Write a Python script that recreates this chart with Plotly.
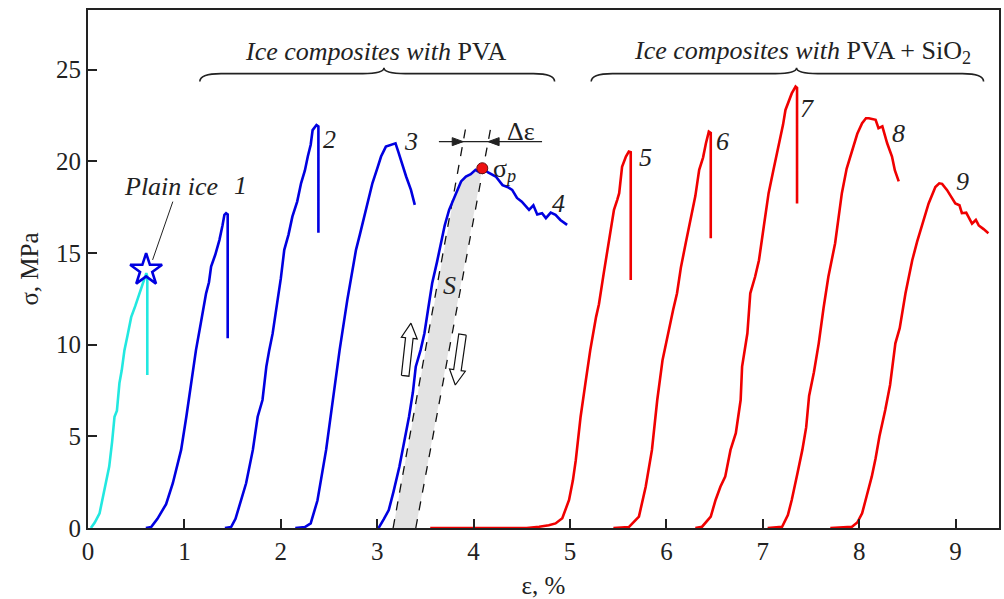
import plotly.graph_objects as go

# ---------------- data ----------------
ice_x = [0.03, 0.07, 0.12, 0.17, 0.22, 0.25, 0.275, 0.30, 0.326, 0.35, 0.378, 0.41, 0.448, 0.49, 0.54, 0.585, 0.605, 0.615, 0.615]
ice_y = [0, 0.3, 0.8, 2.0, 3.35, 4.7, 6.07, 6.4, 7.9, 8.6, 9.7, 10.5, 11.5, 12.1, 12.9, 13.5, 13.9, 13.7, 8.35]
ice_peak_x = [0.603]
ice_peak_y = [14.07]

c1_x = [0.60, 0.655, 0.72, 0.81, 0.88, 0.966, 1.02, 1.07, 1.12, 1.17, 1.20, 1.225, 1.255, 1.277, 1.32, 1.363, 1.395, 1.415, 1.432, 1.449, 1.449]
c1_y = [0, 0.05, 0.5, 1.3, 2.44, 4.26, 6.07, 7.9, 9.7, 11.17, 12.0, 12.8, 13.4, 14.26, 14.9, 15.7, 16.5, 17.08, 17.17, 17.1, 10.35]

c2_x = [1.42, 1.484, 1.53, 1.57, 1.64, 1.71, 1.76, 1.81, 1.85, 1.88, 1.915, 1.967, 2.00, 2.036, 2.08, 2.12, 2.17, 2.21, 2.25, 2.28, 2.31, 2.33, 2.37, 2.39, 2.39]
c2_y = [0, 0.05, 0.5, 1.16, 2.44, 4.26, 6.07, 6.98, 8.8, 9.7, 10.6, 12.44, 13.6, 15.17, 16.0, 16.98, 17.8, 18.8, 19.5, 20.26, 20.9, 21.7, 21.98, 21.9, 16.1]

c3_x = [2.15, 2.25, 2.31, 2.38, 2.47, 2.54, 2.61, 2.69, 2.73, 2.78, 2.82, 2.865, 2.91, 2.95, 3.0, 3.04, 3.09, 3.14, 3.19, 3.22, 3.245, 3.27, 3.30, 3.35, 3.37, 3.39]
c3_y = [0, 0.05, 0.25, 1.5, 4.26, 6.98, 9.7, 12.44, 13.7, 15.17, 16.0, 16.98, 17.9, 18.8, 19.6, 20.26, 20.8, 20.9, 20.98, 20.5, 20.07, 19.7, 19.17, 18.44, 18.0, 17.62]

c4_x = [3.0, 3.02, 3.07, 3.12, 3.17, 3.23, 3.28, 3.33, 3.37, 3.40, 3.45, 3.49, 3.53, 3.57, 3.62, 3.66, 3.70, 3.746, 3.79, 3.83, 3.87, 3.92, 3.97, 4.02, 4.06, 4.09, 4.15, 4.23, 4.30, 4.35, 4.40, 4.45, 4.50, 4.575, 4.62, 4.66, 4.71, 4.75, 4.80, 4.85, 4.90, 4.97]
c4_y = [0, 0.05, 0.5, 0.98, 2.0, 3.34, 4.7, 6.07, 7.4, 8.8, 9.7, 10.62, 12.0, 13.35, 14.5, 15.53, 16.5, 17.35, 17.9, 18.44, 18.9, 19.17, 19.3, 19.53, 19.4, 19.62, 19.4, 19.17, 18.7, 18.6, 18.44, 18.0, 17.8, 17.35, 17.6, 17.1, 17.17, 16.9, 17.2, 17.08, 16.8, 16.53]

c5_x = [3.55, 4.55, 4.68, 4.78, 4.85, 4.92, 4.99, 5.03, 5.06, 5.11, 5.16, 5.21, 5.27, 5.30, 5.35, 5.40, 5.456, 5.49, 5.51, 5.54, 5.58, 5.61, 5.63, 5.63]
c5_y = [0, 0, 0.07, 0.15, 0.25, 0.53, 1.53, 2.6, 3.7, 6.07, 7.9, 9.7, 11.5, 12.2, 13.9, 15.53, 17.35, 17.9, 18.26, 19.7, 20.26, 20.53, 20.5, 13.53]

c6_x = [5.45, 5.61, 5.715, 5.785, 5.85, 5.905, 5.96, 6.03, 6.07, 6.11, 6.15, 6.20, 6.27, 6.30, 6.34, 6.38, 6.41, 6.44, 6.46, 6.46]
c6_y = [0, 0.05, 0.62, 2.25, 4.26, 6.98, 9.17, 10.98, 11.9, 12.8, 14.2, 15.53, 17.35, 18.1, 19.53, 20.2, 20.98, 21.62, 21.55, 15.8]

c7_x = [6.30, 6.37, 6.46, 6.51, 6.56, 6.61, 6.665, 6.72, 6.77, 6.785, 6.84, 6.87, 6.92, 6.96, 7.01, 7.06, 7.11, 7.17, 7.21, 7.235, 7.27, 7.30, 7.34, 7.355, 7.355]
c7_y = [0, 0.07, 0.62, 1.53, 2.25, 2.8, 4.26, 5.17, 6.98, 8.8, 10.62, 12.8, 13.7, 14.6, 16.44, 18.26, 19.53, 20.98, 22.0, 22.8, 23.3, 23.7, 24.07, 24.0, 17.7]

c8_x = [7.05, 7.20, 7.26, 7.30, 7.36, 7.41, 7.45, 7.48, 7.53, 7.58, 7.63, 7.68, 7.75, 7.78, 7.82, 7.87, 7.925, 7.98, 8.03, 8.07, 8.10, 8.17, 8.20, 8.24, 8.29, 8.34, 8.37, 8.41]
c8_y = [0, 0.07, 0.7, 1.53, 3.0, 4.26, 5.5, 7.2, 8.5, 10.07, 12.0, 13.7, 15.53, 16.8, 18.26, 19.6, 20.6, 21.5, 22.08, 22.35, 22.35, 22.26, 21.8, 21.9, 20.98, 20.26, 19.5, 18.9]

c9_x = [7.70, 7.925, 7.98, 8.03, 8.08, 8.13, 8.17, 8.21, 8.27, 8.32, 8.375, 8.42, 8.48, 8.55, 8.60, 8.65, 8.72, 8.79, 8.83, 8.86, 8.91, 8.95, 8.997, 9.04, 9.065, 9.11, 9.17, 9.21, 9.24, 9.29, 9.34]
c9_y = [0, 0.07, 0.3, 0.8, 1.8, 2.8, 3.8, 5.0, 6.44, 7.8, 10.07, 10.9, 12.8, 14.6, 15.6, 16.44, 17.7, 18.6, 18.8, 18.77, 18.44, 18.1, 17.7, 17.6, 17.17, 17.2, 16.6, 16.8, 16.5, 16.3, 16.08]

curve_labels = ["1", "2", "3", "4", "5", "6", "7", "8", "9"]
label_x = [1.58, 2.51, 3.35, 4.885, 5.78, 6.585, 7.46, 8.41, 9.07]
label_y = [18.7, 21.2, 21.07, 17.7, 20.2, 21.07, 22.9, 21.5, 18.9]

# construction lines for curve 4 (offset lines, sigma_p, delta-epsilon)
dash_left_x = [3.165, 3.93]
dash_right_x = [3.40, 4.19]
dash_y = [0, 22.17]
sigma_p_x = [4.09]
sigma_p_y = [19.62]
delta_eps_x = [3.64, 4.71]
delta_eps_y = 21.07

x_ticks = [0, 1, 2, 3, 4, 5, 6, 7, 8, 9]
y_ticks = [0, 5, 10, 15, 20, 25]

BLUE = "#0000e0"
RED = "#f00000"
CYAN = "#22e8e0"
FONT = "Liberation Serif"
TXT = "#222222"

# pixel scale (for drawing arrow glyphs with right proportions)
XR = [0, 9.45]
YR = [0, 28.25]
PW, PH = 913, 518
SX = PW / (XR[1] - XR[0])
SY = PH / (YR[1] - YR[0])

fig = go.Figure()


def dash_x_at(xs, y):
    return xs[0] + (xs[1] - xs[0]) * (y - dash_y[0]) / (dash_y[1] - dash_y[0])


# grey area S between curve 4 and right offset line
ipk = c4_y.index(max(c4_y))
poly_x = [dash_left_x[0]]
poly_y = [0]
for xv, yv in zip(c4_x[:ipk + 1], c4_y[:ipk + 1]):
    if yv >= 13:
        poly_x.append(max(xv, dash_x_at(dash_left_x, yv)))
        poly_y.append(yv)
poly_x += [dash_right_x[0]]
poly_y += [0]
fig.add_trace(go.Scatter(x=poly_x, y=poly_y, fill="toself", fillcolor="#e3e3e3",
                         line=dict(width=0), mode="lines", hoverinfo="skip"))

for xs in (dash_left_x, dash_right_x):
    fig.add_trace(go.Scatter(x=xs, y=dash_y, mode="lines",
                             line=dict(color="#111111", width=1.3, dash="dash")))

curves = [
    (ice_x, ice_y, CYAN),
    (c1_x, c1_y, BLUE), (c2_x, c2_y, BLUE), (c3_x, c3_y, BLUE), (c4_x, c4_y, BLUE),
    (c5_x, c5_y, RED), (c6_x, c6_y, RED), (c7_x, c7_y, RED), (c8_x, c8_y, RED), (c9_x, c9_y, RED),
]
for xs, ys, col in curves:
    fig.add_trace(go.Scatter(x=xs, y=ys, mode="lines", line=dict(color=col, width=2.6)))

fig.add_trace(go.Scatter(x=ice_peak_x, y=ice_peak_y, mode="markers",
                         marker=dict(symbol="star-open", size=24, color=BLUE,
                                     line=dict(color=BLUE, width=2.6))))
fig.add_trace(go.Scatter(x=sigma_p_x, y=sigma_p_y, mode="markers",
                         marker=dict(symbol="circle", size=11, color="#ee1111",
                                     line=dict(color="#661111", width=1))))


# hollow block arrows / solid arrowheads, proportioned in pixels
def arrow_poly(xs, ys, xe, ye, hw=3.8, hh=8.0, hl=15.0):
    X0, Y0, X1, Y1 = xs * SX, ys * SY, xe * SX, ye * SY
    dx, dy = X1 - X0, Y1 - Y0
    L = (dx * dx + dy * dy) ** 0.5
    ux, uy = dx / L, dy / L
    nx, ny = -uy, ux
    bx, by = X1 - ux * hl, Y1 - uy * hl
    pts = [(X0 + nx * hw, Y0 + ny * hw), (bx + nx * hw, by + ny * hw), (bx + nx * hh, by + ny * hh),
           (X1, Y1), (bx - nx * hh, by - ny * hh), (bx - nx * hw, by - ny * hw),
           (X0 - nx * hw, Y0 - ny * hw), (X0 + nx * hw, Y0 + ny * hw)]
    return [p[0] / SX for p in pts], [p[1] / SY for p in pts]


def head_poly(xt, yt, direction, hl=11.0, hh=4.0):
    X, Y = xt * SX, yt * SY
    bx = X - direction * hl
    pts = [(X, Y), (bx, Y + hh), (bx, Y - hh), (X, Y)]
    return [p[0] / SX for p in pts], [p[1] / SY for p in pts]


for a in [(3.29, 8.3, 3.35, 11.17), (3.885, 10.55, 3.81, 7.8)]:
    px_, py_ = arrow_poly(*a)
    fig.add_trace(go.Scatter(x=px_, y=py_, mode="lines", fill="toself", fillcolor="white",
                             line=dict(color="#111111", width=1.2)))

# delta-epsilon dimension line with inward arrowheads
fig.add_trace(go.Scatter(x=delta_eps_x, y=[delta_eps_y, delta_eps_y], mode="lines",
                         line=dict(color="#222222", width=1.3)))
for xt, d in [(dash_x_at(dash_left_x, delta_eps_y), 1), (dash_x_at(dash_right_x, delta_eps_y), -1)]:
    hx, hy = head_poly(xt, delta_eps_y, d)
    fig.add_trace(go.Scatter(x=hx, y=hy, mode="lines", fill="toself", fillcolor="#222222",
                             line=dict(color="#222222", width=1)))


# braces
def brace(x0, x1, xm, yb, ym, yt, d=0.22):
    return (f"M {x0},{yb} Q {x0},{ym} {x0 + d},{ym} L {xm - d},{ym} Q {xm},{ym} {xm},{yt} "
            f"Q {xm},{ym} {xm + d},{ym} L {x1 - d},{ym} Q {x1},{ym} {x1},{yb}")


shapes = [
    dict(type="path", xref="x", yref="y", path=brace(1.16, 4.84, 3.07, 24.35, 24.78, 25.1),
         line=dict(color="#222222", width=1.6)),
    dict(type="path", xref="x", yref="y", path=brace(5.22, 9.29, 7.35, 24.35, 24.78, 25.1),
         line=dict(color="#222222", width=1.6)),
    dict(type="line", xref="x", yref="y", x0=0.67, y0=14.62, x1=0.88, y1=17.8,
         line=dict(color="#222222", width=1)),
]

ann = []
for t, xv, yv in zip(curve_labels, label_x, label_y):
    ann.append(dict(x=xv, y=yv, text=f"<i>{t}</i>", showarrow=False,
                    font=dict(family=FONT, size=26, color=TXT)))
ann += [
    dict(x=0.86, y=18.62, text="<i>Plain ice</i>", showarrow=False, font=dict(family=FONT, size=26, color=TXT)),
    dict(x=2.985, y=25.97, text="<i>Ice composites with</i> PVA", showarrow=False,
         font=dict(family=FONT, size=26, color=TXT)),
    dict(x=7.41, y=25.97, text="<i>Ice composites with</i> PVA + SiO<sub>2</sub>", showarrow=False,
         font=dict(family=FONT, size=26, color=TXT)),
    dict(x=4.49, y=21.6, text="Δε", showarrow=False, font=dict(family=FONT, size=26, color=TXT)),
    dict(x=4.32, y=19.5, text="σ<sub><i>p</i></sub>", showarrow=False, font=dict(family=FONT, size=26, color=TXT)),
    dict(x=3.746, y=13.2, text="<i>S</i>", showarrow=False, font=dict(family=FONT, size=26, color=TXT)),
]

axis_common = dict(showgrid=False, zeroline=False, showline=True, linecolor="#222222", linewidth=2,
                   mirror=True, ticks="inside", ticklen=9, tickwidth=1.5, tickcolor="#222222",
                   tickfont=dict(family=FONT, size=25, color=TXT))

fig.update_layout(
    width=1004, height=599,
    margin=dict(l=88, r=3, t=10, b=71),
    paper_bgcolor="white", plot_bgcolor="white",
    showlegend=False,
    shapes=shapes, annotations=ann,
    xaxis=dict(range=XR, tickvals=x_ticks, title=dict(text="ε, %", standoff=12,
               font=dict(family=FONT, size=25, color=TXT)), **axis_common),
    yaxis=dict(range=YR, tickvals=y_ticks, title=dict(text="σ, MPa", standoff=10,
               font=dict(family=FONT, size=25, color=TXT)), **axis_common),
)

fig.write_html("out.html")
